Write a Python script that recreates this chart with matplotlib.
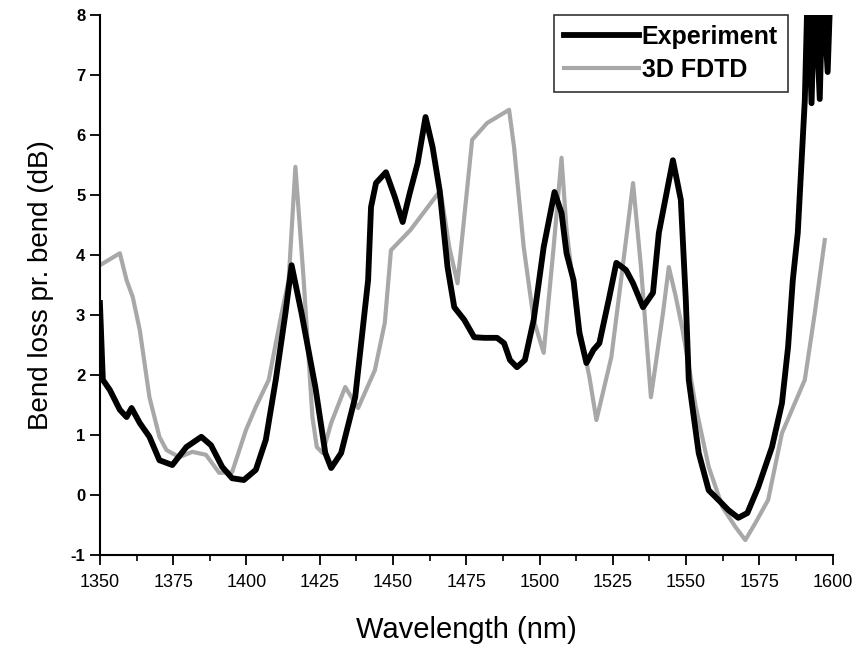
import numpy as np
import matplotlib
matplotlib.use('Agg')
import matplotlib.pyplot as plt
from matplotlib.ticker import MultipleLocator

# experiment (black)
exp_wl = [1350.0, 1351.0, 1353.4, 1356.8, 1359.1, 1360.8, 1363.6, 1366.9, 1370.3, 1374.7,
          1379.5, 1384.6, 1387.9, 1391.7, 1395.1, 1399.1, 1403.2, 1406.6, 1410.0, 1413.3,
          1415.4, 1418.8, 1423.5, 1426.9, 1428.9, 1432.3, 1437.1, 1441.5, 1442.5, 1444.2,
          1447.6, 1450.6, 1453.3, 1455.7, 1458.4, 1461.1, 1463.5, 1465.9, 1468.6, 1470.9,
          1474.3, 1477.7, 1481.1, 1485.5, 1487.9, 1489.9, 1492.3, 1495.0, 1498.0, 1501.4,
          1505.1, 1507.5, 1509.2, 1511.6, 1513.6, 1516.0, 1518.4, 1520.4, 1523.8, 1526.2,
          1529.5, 1531.9, 1535.3, 1538.7, 1540.7, 1545.5, 1548.2, 1549.9, 1550.9, 1554.3,
          1557.7, 1561.0, 1564.4, 1567.8, 1570.9, 1574.6, 1579.3, 1582.7, 1584.8, 1586.4,
          1588.1, 1590.5, 1591.5, 1592.8, 1593.9, 1595.6, 1596.6, 1598.3, 1599.3]
exp_loss = [3.2, 1.92, 1.75, 1.42, 1.3, 1.45, 1.2, 0.97, 0.58, 0.5,
            0.8, 0.97, 0.83, 0.47, 0.28, 0.25, 0.42, 0.92, 1.92, 3.03,
            3.83, 3.03, 1.8, 0.7, 0.45, 0.7, 1.63, 3.58, 4.8, 5.2,
            5.38, 4.97, 4.55, 5.03, 5.53, 6.3, 5.8, 5.08, 3.8, 3.13,
            2.92, 2.63, 2.62, 2.62, 2.53, 2.25, 2.13, 2.25, 2.92, 4.13,
            5.05, 4.7, 4.03, 3.58, 2.7, 2.2, 2.42, 2.53, 3.3, 3.87,
            3.75, 3.53, 3.13, 3.37, 4.37, 5.58, 4.92, 3.25, 1.92, 0.7,
            0.08, -0.08, -0.25, -0.38, -0.3, 0.13, 0.8, 1.53, 2.47, 3.58,
            4.37, 6.58, 8.5, 6.53, 8.5, 6.6, 8.5, 7.05, 8.5]

# 3D FDTD (grey)
sim_wl = [1350.0, 1356.8, 1359.1, 1361.2, 1363.6, 1366.9, 1370.3, 1372.7, 1377.1, 1381.5,
          1386.2, 1390.7, 1395.1, 1399.8, 1403.2, 1407.6, 1412.0, 1414.4, 1416.7, 1419.5,
          1422.5, 1424.0, 1426.0, 1428.9, 1433.7, 1438.1, 1443.8, 1447.2, 1449.3, 1456.0,
          1466.2, 1469.2, 1472.0, 1477.0, 1482.1, 1489.6, 1491.3, 1494.6, 1498.0, 1501.4,
          1504.8, 1507.5, 1509.2, 1512.6, 1517.0, 1519.4, 1524.5, 1527.8, 1531.9, 1534.6,
          1538.0, 1542.1, 1544.1, 1546.5, 1548.8, 1553.3, 1557.7, 1562.4, 1566.8, 1570.2,
          1573.6, 1578.0, 1582.7, 1590.5, 1593.9, 1597.3]
sim_loss = [3.83, 4.03, 3.58, 3.3, 2.75, 1.63, 0.97, 0.75, 0.63, 0.72,
            0.67, 0.37, 0.38, 1.08, 1.47, 1.92, 3.03, 3.58, 5.47, 3.6,
            1.3, 0.8, 0.7, 1.2, 1.8, 1.45, 2.08, 2.87, 4.08, 4.42,
            5.08, 4.13, 3.53, 5.92, 6.2, 6.42, 5.8, 4.13, 2.92, 2.37,
            4.13, 5.62, 4.42, 3.03, 1.97, 1.25, 2.3, 3.58, 5.2, 3.8,
            1.63, 3.03, 3.8, 3.3, 2.75, 1.47, 0.47, -0.2, -0.53, -0.75,
            -0.47, -0.08, 1.03, 1.92, 3.03, 4.25]

xticks = [1350, 1375, 1400, 1425, 1450, 1475, 1500, 1525, 1550, 1575, 1600]
yticks = [-1, 0, 1, 2, 3, 4, 5, 6, 7, 8]

plt.rcParams['font.family'] = ['Liberation Sans', 'DejaVu Sans']
plt.rcParams['axes.unicode_minus'] = False

fig = plt.figure(figsize=(8.54, 6.45), dpi=100)
ax = fig.add_axes([0.117, 0.1395, 0.858, 0.8372])

ax.plot(sim_wl, sim_loss, color='#a8a8a8', lw=3.0, label='3D FDTD', zorder=2)
ax.plot(exp_wl, exp_loss, color='black', lw=4.2, label='Experiment', zorder=3)

ax.set_xlim(1350, 1600)
ax.set_ylim(-1, 8)
ax.set_xticks(xticks)
ax.set_yticks(yticks)
ax.xaxis.set_minor_locator(MultipleLocator(12.5))
ax.spines['top'].set_visible(False)
ax.spines['right'].set_visible(False)
for s in ['left', 'bottom']:
    ax.spines[s].set_linewidth(1.5)
ax.tick_params(axis='both', which='major', direction='out', length=7, width=1.3)
ax.tick_params(axis='x', which='minor', direction='out', length=4, width=1.2)
ax.tick_params(axis='x', labelsize=13, pad=7)
ax.tick_params(axis='y', labelsize=12)
for lab in ax.get_xticklabels():
    lab.set_family(['DejaVu Sans Condensed', 'Liberation Sans Narrow', 'Liberation Sans'])
for lab in ax.get_yticklabels():
    lab.set_fontweight('bold')

ax.set_xlabel('Wavelength (nm)', fontsize=21, labelpad=18)
ax.set_ylabel('Bend loss pr. bend (dB)', fontsize=20, labelpad=12)

h, l = ax.get_legend_handles_labels()
leg = ax.legend(h[::-1], l[::-1], loc='upper right', bbox_to_anchor=(0.9386, 1.0),
                prop={'weight': 'bold', 'size': 18}, frameon=True, fancybox=False,
                handlelength=3.0, handletextpad=0.1, borderpad=0.4, labelspacing=0.35,
                borderaxespad=0)
leg.get_frame().set_edgecolor('black')
leg.get_frame().set_linewidth(1.2)

plt.savefig('out.png', dpi=100)
